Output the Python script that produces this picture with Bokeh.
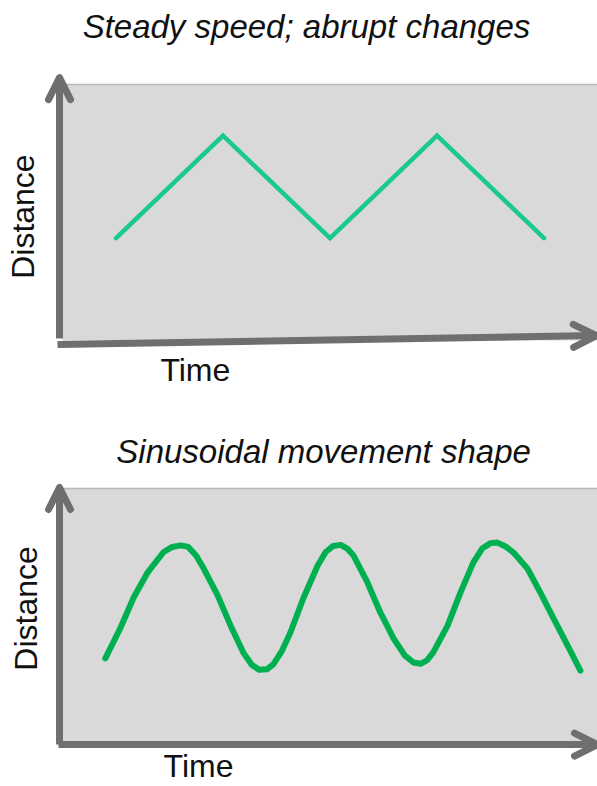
from bokeh.plotting import figure
from bokeh.models import Arrow, OpenHead, Range1d
from bokeh.layouts import column
from bokeh.embed import file_html
from bokeh.resources import INLINE
from bokeh.core.properties import value

# ---- data ----
titles = ["Steady speed; abrupt changes", "Sinusoidal movement shape"]
x_label = "Time"
y_label = "Distance"

# Panel 1: constant speed, abrupt reversals
steady_time = [1, 3, 5, 7, 9]
steady_distance = [4, 8, 4, 8, 4]

# Panel 2: sinusoidal movement
sine_time = [0.80, 1.08, 1.33, 1.59, 1.89, 2.05, 2.21, 2.35, 2.50, 2.64, 2.90,
             3.14, 3.38, 3.54, 3.68, 3.82, 3.94, 4.10, 4.26, 4.50, 4.77, 4.92,
             5.06, 5.20, 5.33, 5.44, 5.70, 5.94, 6.19, 6.40, 6.56, 6.70, 6.82,
             6.93, 7.20, 7.44, 7.68, 7.85, 8.00, 8.13, 8.28, 8.43, 8.69, 8.93,
             9.18, 9.44, 9.68]
sine_distance = [3.31, 4.50, 5.71, 6.69, 7.50, 7.70, 7.76, 7.70, 7.35, 6.85, 5.79,
                 4.61, 3.54, 3.05, 2.86, 2.88, 3.08, 3.60, 4.33, 5.67, 6.97, 7.50,
                 7.74, 7.78, 7.62, 7.36, 6.30, 5.12, 4.09, 3.42, 3.15, 3.10, 3.25,
                 3.55, 4.61, 5.91, 7.09, 7.65, 7.85, 7.87, 7.72, 7.48, 6.85, 5.91,
                 4.88, 3.82, 2.83]

AXIS_COLOR = "#6f6f6f"
PANEL_FILL = "#d9d9d9"
FONT = value("Liberation Sans")
W = 597


def make_panel(height, y0, y1):
    p = figure(width=W, height=height, output_backend="svg", toolbar_location=None,
               x_range=Range1d(-1.1589, 10.0), y_range=Range1d(y0, y1),
               x_axis_location=None, y_axis_location=None, min_border=0,
               title=None, background_fill_color="white", border_fill_color="white")
    p.grid.visible = False
    p.outline_line_color = None
    # plotting area
    p.quad(left=[0], right=[10], bottom=[0], top=[10], fill_color=PANEL_FILL, line_color=None)
    p.segment(x0=[0], y0=[10], x1=[10], y1=[10], line_color="#b8b8b8", line_width=1.5)
    return p


def add_axes(p, vx, vy0, vy1, hx0, hy0, hx1, hy1):
    p.add_layout(Arrow(end=OpenHead(size=22, line_width=7, line_color=AXIS_COLOR,
                                    line_cap="round", line_join="round"),
                       x_start=vx, y_start=vy0, x_end=vx, y_end=vy1,
                       line_width=7, line_color=AXIS_COLOR, line_cap="butt"))
    p.add_layout(Arrow(end=OpenHead(size=23, line_width=7, line_color=AXIS_COLOR,
                                    line_cap="round", line_join="round"),
                       x_start=hx0, y_start=hy0, x_end=hx1, y_end=hy1,
                       line_width=7, line_color=AXIS_COLOR, line_cap="butt"))


def add_texts(p, title, tx, ty, dx, dy, timex, timey):
    p.text(x=[tx], y=[ty], text=[title], text_font=FONT, text_font_size="33px",
           text_font_style="italic", text_align="center", text_baseline="alphabetic",
           text_color="#111111")
    p.text(x=[dx], y=[dy], text=[y_label], text_font=FONT, text_font_size="32px",
           text_align="center", text_baseline="alphabetic", angle=1.5708,
           text_color="#111111")
    p.text(x=[timex], y=[timey], text=[x_label], text_font=FONT, text_font_size="32px",
           text_align="left", text_baseline="alphabetic", text_color="#111111")


# ---- top panel ----
p1 = make_panel(400, -2.344, 13.281)
p1.line(steady_time, steady_distance, line_color="#19c98d", line_width=4.5,
        line_join="miter", line_cap="round")
add_axes(p1, -0.056, 0.08, 10.27, -0.093, -0.156, 9.98, 0.195)
add_texts(p1, titles[0], 4.56, 12.27, -0.729, 4.84, 1.83, -1.17)

# ---- bottom panel ----
p2 = make_panel(386, -1.732, 13.465)
p2.line(sine_time, sine_distance, line_color="#00b050", line_width=6,
        line_join="round", line_cap="round")
add_axes(p2, -0.056, -0.08, 10.04, -0.075, -0.08, 10.0, -0.08)
add_texts(p2, titles[1], 4.88, 11.45, -0.691, 5.28, 1.89, -0.94)

layout = column(p1, p2, spacing=0)
open("out.html", "w").write(file_html(layout, INLINE))
